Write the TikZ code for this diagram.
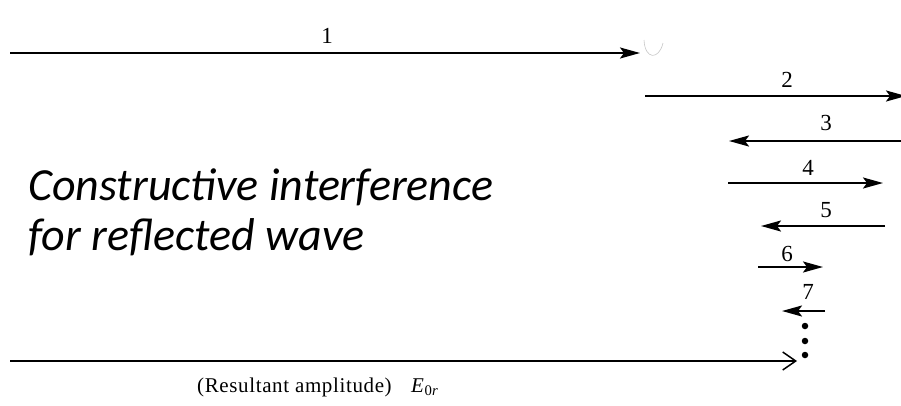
\documentclass[tikz,border=0pt]{standalone}
\usepackage{fontspec}
\setmainfont{Liberation Serif}
\newfontfamily\calib{Carlito}
\usetikzlibrary{arrows.meta}
\begin{document}
\begin{tikzpicture}[x=1pt,y=-1pt,
  vec/.style={line width=2.2pt,-{Stealth[length=20pt,width=11pt,inset=4pt]}},
  res/.style={line width=2.2pt,-{Straight Barb[length=13pt,width=18pt,line width=1.5pt]}},
  num/.style={font=\fontsize{23}{23}\selectfont,inner sep=0pt},
  lab/.style={font=\fontsize{21}{21}\selectfont\addfontfeatures{LetterSpace=3},inner sep=0pt,anchor=base west},
  big/.style={font=\calib\itshape\fontsize{46}{50}\selectfont,inner sep=0pt,anchor=base west},
  dot/.style={circle,fill=black,inner sep=0pt,minimum size=6.5pt}]
\useasboundingbox (0,0) rectangle (901,405);
% arrow 1
\coordinate (a1s) at (10,53);
\coordinate (a1e) at (640,53);
\draw[vec] (a1s) -- (a1e);
\node[num] (n1) at (327,36) {1};
\draw[gray!45,line width=0.6pt] (644,40) .. controls (645,60) and (659,60) .. (663,43);
% arrow 2
\coordinate (a2s) at (645,96);
\coordinate (a2e) at (906,96);
\draw[vec] (a2s) -- (a2e);
\node[num] (n2) at (787,80) {2};
% arrow 3
\coordinate (a3s) at (905,141);
\coordinate (a3e) at (729,141);
\draw[vec] (a3s) -- (a3e);
\node[num] (n3) at (826,123) {3};
% arrow 4
\coordinate (a4s) at (728,183);
\coordinate (a4e) at (883,183);
\draw[vec] (a4s) -- (a4e);
\node[num] (n4) at (808,168) {4};
% arrow 5
\coordinate (a5s) at (885,226);
\coordinate (a5e) at (761,226);
\draw[vec] (a5s) -- (a5e);
\node[num] (n5) at (826,210) {5};
% arrow 6
\coordinate (a6s) at (758,267);
\coordinate (a6e) at (823,267);
\draw[vec] (a6s) -- (a6e);
\node[num] (n6) at (787,254) {6};
% arrow 7
\coordinate (a7s) at (825,311);
\coordinate (a7e) at (782,311);
\draw[vec] (a7s) -- (a7e);
\node[num] (n7) at (808,292) {7};
% dots
\node[dot] (d1) at (805,326) {};
\node[dot] (d2) at (805,341) {};
\node[dot] (d3) at (805,355) {};
% resultant
\coordinate (rs) at (10,361);
\coordinate (re) at (797,361);
\draw[res] (rs) -- (re);
\node[lab] (rl) at (197,392) {(Resultant amplitude)};
\node[lab] (el) at (411,392) {\textit{E}\textsubscript{0\textit{r}}};
% text
\node[big] (t1) at (28,200) {Constructive interference};
\node[big] (t2) at (28,250) {for reflected wave};
\end{tikzpicture}
\end{document}
